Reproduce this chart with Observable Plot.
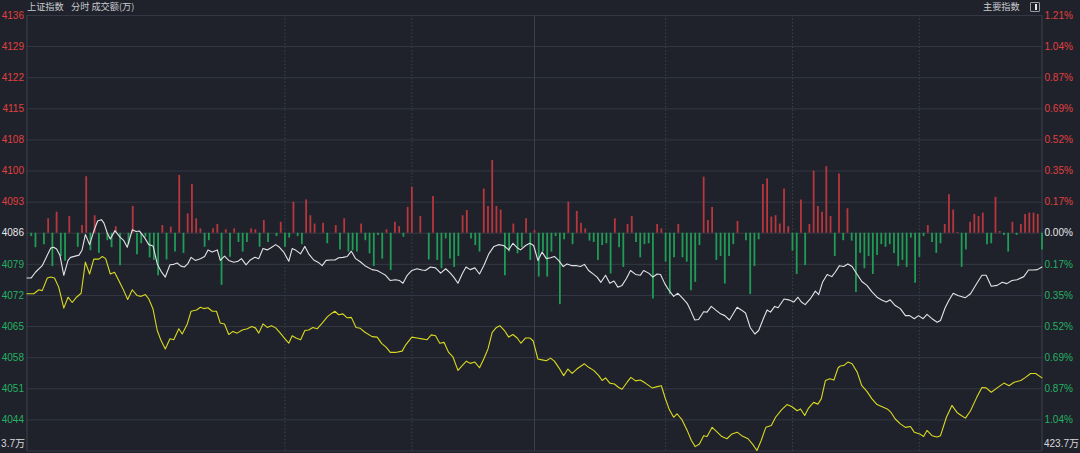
<!DOCTYPE html>
<html><head><meta charset="utf-8">
<script src="https://cdn.jsdelivr.net/npm/d3@7"></script>
<script src="https://cdn.jsdelivr.net/npm/@observablehq/plot@0.6"></script>
<style>
html,body{margin:0;padding:0;background:#1f222b;overflow:hidden}
#wrap{position:relative;width:1080px;height:453px;background:#1f222b}
#wrap svg{display:block}
.t{position:absolute;font-family:"Noto Sans CJK SC","Noto Sans",sans-serif;font-size:9.2px;color:#c9cbd1;line-height:1;white-space:pre}
.icon{position:absolute;left:1030px;top:2px;width:8px;height:8px;border:1px solid #9a9ca3;border-radius:1px}
.icon i{position:absolute;left:4px;top:1px;width:2px;height:6px;background:#e6e6e6}
</style></head><body><div id="wrap"></div>
<script>
// ---- data ----
const titleLeft = "上证指数";
const titleMid = "分时 成交额(万)";
const titleRight = "主要指数";
const basePrice = 4086.2;
const priceStep = 7.1;
const tickSteps = [7,6,5,4,3,2,1,0,-1,-2,-3,-4,-5,-6];
const leftTickLabels = ["4136","4129","4122","4115","4108","4100","4093","4086","4079","4072","4065","4058","4051","4044"];
const rightTickLabels = ["1.21%","1.04%","0.87%","0.69%","0.52%","0.35%","0.17%","0.00%","0.17%","0.35%","0.52%","0.69%","0.87%","1.04%"];
const volLeftLabel = "3.7万";
const volRightLabel = "423.7万";
const timeGridMinutes = [61, 91, 151, 181, 211];
const sessionBreakMinute = 120;
const totalMinutes = 240;

const priceMinutes = [0,1,2,3.6,4.4,5.6,6.3,7,7.8,8.7,9.7,10.3,12.3,13,13.8,14.8,15.8,16.7,17.6,18.2,19,19.7,20.8,22,22.9,23.7,24.9,25.8,26.6,27.8,28.8,29.8,30.8,31.7,32.7,33.8,34.7,35.5,36.4,37.2,38,38.8,39.8,41,42,42.8,43.8,45,45.7,46.7,47.7,48.9,49.9,50.7,51.8,52.8,53.9,54.8,55.8,56.8,57.7,58.8,59.7,60.7,61.9,62.7,63.6,64.7,65.7,66.6,67.8,68.8,69.8,70.7,71.8,72.8,73.7,74.7,75.7,76.7,77.7,78.8,79.9,81.6,82.8,83.9,84.8,85.9,87.1,88.1,88.9,89.9,91,92.2,93.4,94.2,95.4,96.6,97.8,99,100.1,100.9,101.9,102.9,103.8,104.8,105.9,107,108,109.2,110.4,111.5,112.7,113.9,114.9,115.9,116.7,117.9,118.9,119.8,120.8,121.8,122.8,123.8,124.7,125.7,126.8,127.7,128.9,130,130.9,131.8,132.8,134,134.8,135.7,136.8,137.8,138.8,139.7,140.7,141.7,142.7,143.9,145,145.8,147,148,149,149.8,150.8,151.7,152.9,153.9,154.9,156.1,156.9,157.9,158.8,160,160.8,161.8,162.8,164,165,166.1,167.1,167.9,168.9,169.9,171,172.1,173,174.2,175,175.8,176.8,177.6,179,180.1,181.3,182.3,183.1,184,185.2,186.4,187.2,188.1,189.2,190.3,191.1,192.1,193.1,194.1,195.1,196.3,197.4,198.6,199.8,201,202.2,203.2,204.1,205.3,206.5,207.7,208.7,209.8,210.8,211.9,212.8,214,215.2,216,217.1,218,219,220.1,221.9,223.1,224.6,225.8,226.8,228,229.4,230.6,231.7,232.9,234.1,235.7,236.8,238,238.9,240];
const priceValues = [4076.0,4076.0,4077.3,4078.8,4080.4,4082.8,4083.0,4082.6,4081.1,4076.6,4080.0,4080.7,4081.2,4082.3,4085.9,4083.6,4086.7,4089.0,4089.3,4088.5,4086.2,4084.9,4086.8,4085.3,4084.5,4083.0,4087.0,4086.6,4086.7,4085.2,4083.6,4083.3,4079.2,4077.5,4076.2,4079.0,4079.1,4079.4,4078.7,4078.5,4079.2,4080.7,4080.0,4080.4,4080.9,4082.4,4081.9,4082.4,4080.0,4081.0,4080.0,4079.6,4079.8,4080.4,4079.0,4080.1,4080.7,4080.4,4082.7,4082.4,4082.9,4083.6,4083.0,4081.9,4079.8,4082.7,4082.3,4081.5,4083.2,4081.5,4080.1,4079.6,4078.8,4080.0,4080.1,4080.1,4080.6,4080.7,4080.9,4082.1,4080.4,4079.7,4078.8,4077.9,4077.7,4077.1,4076.6,4075.4,4075.6,4075.4,4074.8,4076.6,4077.7,4078.1,4077.8,4077.7,4078.5,4078.3,4077.1,4078.1,4077.1,4076.2,4074.8,4076.9,4078.5,4077.9,4078.3,4076.9,4078.8,4081.5,4083.2,4083.6,4083.4,4082.4,4083.9,4082.9,4082.4,4083.4,4083.9,4083.4,4080.0,4081.9,4080.4,4080.6,4080.9,4080.0,4078.6,4079.2,4078.8,4078.8,4078.6,4079.1,4077.7,4076.8,4076.2,4075.0,4076.6,4074.8,4075.3,4073.9,4074.3,4075.8,4077.7,4076.8,4076.6,4077.7,4077.1,4076.2,4076.9,4076.8,4074.7,4073.3,4071.8,4072.5,4071.5,4070.2,4068.6,4066.4,4066.5,4068.3,4068.2,4069.5,4068.7,4067.8,4067.4,4066.4,4068.0,4069.3,4068.7,4068.0,4064.7,4063.2,4064.0,4066.9,4068.7,4068.2,4069.5,4069.2,4071.2,4071.0,4070.5,4071.6,4070.5,4069.9,4071.2,4073.0,4072.2,4075.0,4076.8,4076.3,4077.3,4078.8,4078.6,4079.2,4078.6,4076.8,4075.2,4074.3,4072.8,4071.6,4070.9,4070.5,4071.0,4069.7,4069.0,4067.4,4067.4,4066.7,4067.4,4066.7,4067.7,4066.7,4065.9,4066.3,4069.2,4070.9,4072.5,4072.0,4071.5,4072.4,4074.8,4076.6,4076.6,4074.1,4074.3,4075.0,4074.7,4075.4,4075.6,4076.3,4077.8,4077.8,4077.9,4078.5];

const avgMinutes = [0,1.6,2.8,3.6,4.8,5.6,6.5,7.5,8.7,9.7,10.7,11.7,12.8,13.8,14.8,15.8,17,17.8,18.6,19.7,20.7,21.7,22.7,23.8,24.9,26,27,28,28.8,29.8,30.8,31.7,32.7,33.8,34.7,35.9,36.7,37.9,38.8,40.1,41,41.8,42.8,43.8,44.8,45.7,46.7,47.7,48.7,49.7,50.9,52.1,53.1,54,54.8,55.8,56.8,57.8,58.8,59.9,61,61.9,62.7,63.6,64.7,65.7,66.6,67.6,68.6,69.8,71,72,72.8,73.7,74.7,75.7,76.7,77.8,78.8,79.9,81.6,82.8,83.9,84.9,85.9,87.1,88.7,89.6,91,92.2,93.4,94.6,95.6,96.6,97.6,98.6,99.7,100.7,101.9,102.9,103.9,104.8,105.9,107,108,109,110,111,111.8,112.9,113.9,114.9,115.9,116.8,117.9,118.9,119.7,120.8,121.8,122.8,123.8,124.7,125.7,126.9,127.9,128.9,130,131.8,132.8,134,135.2,136,136.8,137.8,138.9,139.9,140.7,141.9,142.8,143.9,145,146.2,147.8,149,150,150.9,151.9,152.9,153.7,154.9,156.1,157.1,158,159,160,160.8,162,163.2,164.3,165.5,166.7,167.9,169,170.5,171.6,172.6,173.6,174.7,176,177,178.4,179.7,180.9,182.1,182.9,183.9,184.8,186,187,187.8,188.8,189.8,190.8,191.8,192.3,193.1,194.1,195.1,196.3,197.4,198.6,199.8,201,202.2,203.4,204.3,205.3,206.5,207.7,208.9,209.8,211.1,212,212.8,214,215.2,216,217.4,218.7,219.9,220.9,221.9,223.1,224.6,225.8,226.8,228,229.4,231,232.2,233.4,235,236.1,237.3,238.5,240];
const avgValues = [4072.4,4072.4,4073.3,4073.1,4076.0,4076.2,4076.0,4073.9,4069.1,4071.6,4070.4,4071.6,4072.5,4079.6,4076.9,4080.3,4080.3,4080.9,4080.4,4076.9,4077.3,4075.4,4073.5,4071.1,4073.3,4072.0,4071.8,4072.2,4071.2,4068.9,4064.0,4061.7,4059.8,4062.1,4061.9,4064.4,4063.2,4065.5,4068.4,4068.7,4069.3,4069.0,4069.2,4068.4,4068.4,4065.7,4065.5,4063.1,4063.8,4063.4,4064.1,4064.4,4064.9,4064.6,4063.4,4065.5,4064.7,4065.1,4064.6,4063.4,4062.1,4061.1,4062.8,4062.3,4061.9,4064.0,4064.1,4064.7,4064.4,4065.7,4067.1,4067.9,4068.4,4067.6,4067.8,4066.9,4067.0,4064.7,4064.5,4063.6,4062.6,4062.5,4061.0,4060.2,4059.0,4059.0,4059.3,4060.8,4062.5,4062.3,4062.1,4061.9,4063.0,4062.8,4061.1,4061.3,4059.0,4058.0,4054.9,4056.0,4057.0,4056.5,4056.8,4055.5,4057.5,4059.8,4063.6,4064.7,4065.1,4064.0,4062.5,4063.1,4062.3,4061.1,4062.3,4062.3,4061.6,4057.5,4057.3,4057.1,4057.7,4057.0,4055.6,4053.7,4055.2,4054.2,4055.2,4056.4,4055.6,4054.9,4053.7,4052.6,4053.2,4052.0,4051.8,4051.0,4050.6,4052.2,4053.3,4052.5,4052.7,4052.0,4050.9,4051.2,4051.4,4048.6,4045.9,4044.2,4045.0,4043.6,4041.2,4038.9,4037.5,4038.1,4040.0,4039.8,4041.9,4040.8,4039.8,4039.3,4040.4,4040.8,4040.0,4039.3,4038.0,4036.6,4038.9,4041.9,4042.3,4044.2,4045.9,4047.1,4046.6,4045.7,4046.1,4044.6,4046.3,4047.6,4047.2,4048.4,4052.6,4053.0,4052.7,4055.5,4055.9,4056.0,4056.8,4056.4,4054.5,4051.4,4050.1,4048.4,4047.1,4046.6,4046.1,4045.3,4043.8,4042.7,4041.9,4042.1,4040.8,4040.4,4039.8,4041.2,4040.0,4039.7,4040.0,4044.2,4046.9,4045.3,4044.6,4044.0,4045.7,4048.8,4051.0,4050.9,4049.9,4050.9,4052.0,4051.4,4052.2,4052.6,4053.3,4054.2,4054.2,4053.2];

const upMinutes = [5,7,10,13,14,16,21,25,32,34,36,38,39,40,41,44,45,47,49,53,54,56,60,63,66,67,68,70,73,75,79,85,87,88,90,91,93,96,103,104,108,109,110,111,112,115,118,120,128,130,131,132,139,142,143,149,150,154,160,161,162,168,174,175,176,177,178,179,180,183,185,186,187,188,189,190,192,194,213,217,218,219,220,223,224,225,226,229,230,233,235,236,237,238,239];
const upValues = [3.3,4.8,3.8,1.75,12.9,4.0,1.5,6.1,1.75,1.4,13.2,4.4,11.1,3.3,1.0,1.0,2.0,0.8,1.0,1.0,0.8,2.9,2.5,7.1,7.6,4.0,2.1,2.3,1.75,3.3,2.1,0.8,2.5,1.5,5.9,10.5,3.8,8.4,4.0,5.2,10.1,6.1,16.6,6.1,5.3,2.1,3.3,0.6,7.1,5.0,2.3,1.0,3.3,2.0,3.8,2.0,1.0,2.0,12.8,2.9,5.9,2.7,11.1,12.4,3.7,4.0,2.1,10.1,1.5,7.6,2.0,14.2,6.1,4.8,15.2,3.8,13.5,5.6,1.75,2.0,8.8,5.3,0.2,2.5,4.3,3.8,4.6,8.2,0.4,2.5,2.0,4.3,4.6,4.6,4.3];
const downMinutes = [1,2,4,6,8,9,12,15,17,19,20,22,24,26,27,28,29,30,31,33,35,37,42,43,46,48,50,51,52,55,57,59,61,62,64,65,71,74,76,77,78,80,81,82,83,84,86,89,95,97,98,99,100,101,102,105,106,107,113,114,116,117,119,121,122,123,124,125,126,127,129,133,134,135,136,137,138,140,141,144,145,146,147,148,151,152,153,155,156,157,158,159,163,164,165,166,167,170,171,172,173,181,182,184,191,193,195,196,197,198,199,200,201,202,203,204,205,206,207,208,209,210,211,212,214,215,216,221,222,227,228,231,232,234,240];
const downValues = [0.76,3.3,2.6,7.6,5.3,6.4,3.2,4.0,4.6,1.7,3.3,7.4,2.6,4.9,2.4,0.9,5.6,6.2,9.7,6.1,4.3,4.6,3.2,1.7,11.9,5.5,2.1,4.3,2.1,3.2,2.1,0.76,3.2,1.1,0.76,2.6,2.4,3.8,4.3,4.0,4.3,1.7,4.7,7.6,0.5,5.9,8.5,0.9,6.1,6.2,8.1,1.3,5.9,7.8,5.3,1.3,2.8,4.3,9.7,4.3,4.7,3.3,6.2,10.0,4.3,10.0,4.3,0.76,16.3,1.5,2.6,1.8,2.1,6.2,2.8,2.4,9.3,3.3,7.8,2.1,5.6,2.6,2.4,15.0,6.6,14.0,5.6,5.6,6.6,13.1,11.2,2.8,6.2,5.3,11.6,5.3,2.6,1.7,14.0,7.6,1.5,4.1,9.4,7.4,5.3,1.7,1.8,13.5,4.6,8.1,5.3,9.4,5.1,2.6,3.2,2.6,4.6,7.6,6.2,7.8,1.1,11.4,5.5,0.76,2.1,4.6,2.4,7.8,3.8,2.6,2.4,0.5,4.3,0.5,3.8];

// ---- build ----
const ticks = tickSteps.map((k, i) => ({k, v: basePrice + k * priceStep, left: leftTickLabels[i], right: rightTickLabels[i]}));
const tickColor = d => d.k > 0 ? "#e0403f" : d.k < 0 ? "#25b162" : "#e6e7ea";
const price = priceMinutes.map((m, i) => ({m, v: priceValues[i]}));
const avg = avgMinutes.map((m, i) => ({m, v: avgValues[i]}));
const ups = upMinutes.map((m, i) => ({m, y1: basePrice, y2: basePrice + upValues[i]}));
const downs = downMinutes.map((m, i) => ({m, y1: basePrice, y2: basePrice - downValues[i]}));
const fontStack = "'Liberation Sans','Noto Sans CJK SC',sans-serif";

const chart = Plot.plot({
  width: 1080, height: 453,
  marginLeft: 26.5, marginRight: 38.5, marginTop: 15, marginBottom: 2.5,
  style: {background: "transparent", fontFamily: fontStack, fontSize: "10px", overflow: "visible"},
  x: {domain: [0, totalMinutes], axis: null},
  y: {domain: [basePrice - 7 * priceStep, basePrice + 7 * priceStep], axis: null},
  marks: [
    Plot.ruleY(ticks, {y: "v", stroke: "#343844", strokeWidth: 1}),
    Plot.ruleY([basePrice - 7 * priceStep], {stroke: "#343844"}),
    Plot.ruleX(timeGridMinutes, {stroke: "#3c414d", strokeDasharray: "1.5,2"}),
    Plot.ruleX([sessionBreakMinute], {stroke: "#3a3f4b"}),
    Plot.ruleX([0, totalMinutes], {stroke: "#3e434f"}),
    Plot.ruleX(ups, {x: "m", y1: "y1", y2: "y2", stroke: "#b9363d", strokeWidth: 1.8}),
    Plot.ruleX(downs, {x: "m", y1: "y1", y2: "y2", stroke: "#1f9c55", strokeWidth: 1.8}),
    Plot.line(price, {x: "m", y: "v", stroke: "#e2e3e6", strokeWidth: 1.1}),
    Plot.line(avg, {x: "m", y: "v", stroke: "#d9d920", strokeWidth: 1.1}),
    Plot.text(ticks, {frameAnchor: "left", y: "v", text: "left", fill: tickColor, textAnchor: "end", dx: -3}),
    Plot.text(ticks, {frameAnchor: "right", y: "v", text: "right", fill: tickColor, textAnchor: "start", dx: 2.5}),
    Plot.text([volLeftLabel], {frameAnchor: "bottom-left", text: d => d, fill: "#d8d9dc", textAnchor: "end", dx: -2, dy: -4.5}),
    Plot.text([volRightLabel], {frameAnchor: "bottom-right", text: d => d, fill: "#d8d9dc", textAnchor: "start", dx: 2, dy: -4.5})
  ]
});
const wrap = document.getElementById("wrap");
wrap.appendChild(chart);
function addText(txt, left, top) {
  const d = document.createElement("div");
  d.className = "t"; d.textContent = txt;
  d.style.left = left + "px"; d.style.top = top + "px";
  wrap.appendChild(d);
}
addText(titleLeft, 27, 2);
addText(titleMid, 71, 2);
addText(titleRight, 983, 2);
const icon = document.createElement("div");
icon.className = "icon"; icon.appendChild(document.createElement("i"));
wrap.appendChild(icon);
</script></body></html>
